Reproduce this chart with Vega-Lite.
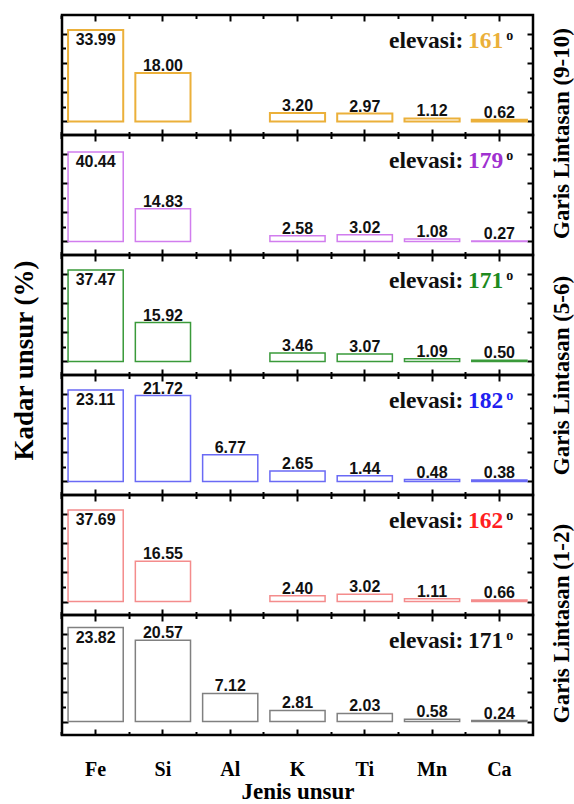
{
"$schema": "https://vega.github.io/schema/vega-lite/v6.json",
"background": "white",
"padding": {"left": 10, "top": 12, "right": 0, "bottom": 0},
"config": {
  "view": {"stroke": "black", "strokeWidth": 2.5},
  "axis": {"grid": false, "domain": false, "labels": false, "title": null, "tickColor": "black", "tickWidth": 2, "minExtent": 0, "titleFont": "Liberation Serif", "titleFontWeight": "bold", "titleColor": "black"},
  "title": {"font": "Liberation Serif", "fontWeight": "bold", "color": "black"},
  "text": {"font": "Liberation Sans", "fontWeight": "bold", "fontSize": 16, "color": "#111"}
},
"datasets": {
  "p1": [{"element":"Fe","value":33.99},{"element":"Si","value":18.00},{"element":"K","value":3.20},{"element":"Ti","value":2.97},{"element":"Mn","value":1.12},{"element":"Ca","value":0.62}],
  "p2": [{"element":"Fe","value":40.44},{"element":"Si","value":14.83},{"element":"K","value":2.58},{"element":"Ti","value":3.02},{"element":"Mn","value":1.08},{"element":"Ca","value":0.27}],
  "p3": [{"element":"Fe","value":37.47},{"element":"Si","value":15.92},{"element":"K","value":3.46},{"element":"Ti","value":3.07},{"element":"Mn","value":1.09},{"element":"Ca","value":0.50}],
  "p4": [{"element":"Fe","value":23.11},{"element":"Si","value":21.72},{"element":"Al","value":6.77},{"element":"K","value":2.65},{"element":"Ti","value":1.44},{"element":"Mn","value":0.48},{"element":"Ca","value":0.38}],
  "p5": [{"element":"Fe","value":37.69},{"element":"Si","value":16.55},{"element":"K","value":2.40},{"element":"Ti","value":3.02},{"element":"Mn","value":1.11},{"element":"Ca","value":0.66}],
  "p6": [{"element":"Fe","value":23.82},{"element":"Si","value":20.57},{"element":"Al","value":7.12},{"element":"K","value":2.81},{"element":"Ti","value":2.03},{"element":"Mn","value":0.58},{"element":"Ca","value":0.24}]
},
"title": {"text": "Kadar unsur (%)", "orient": "left", "fontSize": 27, "offset": 20, "anchor": "middle", "dx": 48},
"spacing": 0,
"bounds": "flush",
"vconcat": [
  {
   "width": 471, "height": 120,
   "data": {"name": "p1"},
   "layer": [
    {"mark": {"type": "bar", "fill": "transparent", "stroke": "#EBB03A", "strokeWidth": 2},
     "encoding": {
      "x": {"field": "element", "type": "nominal", "sort": null, "scale": {"domain": ["Fe","Si","Al","K","Ti","Mn","Ca"], "paddingInner": 0.18, "paddingOuter": 0.09}, "axis": {"orient": "bottom", "bandPosition": 0.5, "tickSize": -6}},
      "y": {"field": "value", "type": "quantitative", "scale": {"domain": [-5.02, 39.59], "nice": false, "zero": false}, "axis": {"orient": "left", "values": [0, 10.89, 21.78, 32.68], "tickSize": -6}},
      "y2": {"datum": 0}}},
    {"transform": [{"filter": "datum.element === 'Fe'"}],
     "mark": {"type": "text", "dy": 15, "baseline": "alphabetic"},
     "encoding": {
      "x": {"field": "element", "type": "nominal", "axis": {"orient": "top", "bandPosition": 0.5, "tickSize": -6}},
      "y": {"field": "value", "type": "quantitative", "axis": {"orient": "right", "values": [0, 10.89, 21.78, 32.68], "tickSize": -6, "title": "Garis Lintasan (9-10)", "titleAngle": 270, "titleX": 28, "titleY": 118, "titleAlign": "center", "titleBaseline": "middle", "titleFontSize": 23}},
      "text": {"field": "value", "type": "quantitative", "format": ".2f"}}},
    {"transform": [{"filter": "datum.element !== 'Fe'"}],
     "mark": {"type": "text", "dy": -2, "baseline": "alphabetic"},
     "encoding": {
      "x": {"field": "element", "type": "nominal", "axis": {"orient": "bottom", "bandPosition": -0.11, "tickSize": -3.5}},
      "y": {"field": "value", "type": "quantitative", "axis": {"orient": "left", "values": [5.45, 16.34, 27.23], "tickSize": -3.5}},
      "text": {"field": "value", "type": "quantitative", "format": ".2f"}}},
    {"data": {"values": [{}]},
     "mark": {"type": "text", "text": "elevasi:", "align": "right", "dx": -36, "dy": 33, "baseline": "alphabetic", "font": "Liberation Serif", "fontSize": 23.5, "color": "#111"},
     "encoding": {
      "x": {"datum": "Ca", "type": "nominal", "axis": {"orient": "top", "bandPosition": -0.11, "tickSize": -3.5}},
      "y": {"datum": 39.59, "type": "quantitative", "axis": {"orient": "right", "values": [5.45, 16.34, 27.23], "tickSize": -3.5}}}},
    {"data": {"values": [{}]},
     "mark": {"type": "text", "text": "161", "align": "right", "dx": 4, "dy": 33, "baseline": "alphabetic", "font": "Liberation Serif", "fontSize": 23.5, "color": "#EBB03A"},
     "encoding": {"x": {"datum": "Ca", "type": "nominal", "axis": null}, "y": {"datum": 39.59, "type": "quantitative", "axis": null}}},
    {"data": {"values": [{}]},
     "mark": {"type": "text", "text": "o", "align": "left", "dx": 7, "dy": 25, "baseline": "alphabetic", "font": "Liberation Serif", "fontSize": 14, "color": "#111"},
     "encoding": {"x": {"datum": "Ca", "type": "nominal", "axis": null}, "y": {"datum": 39.59, "type": "quantitative", "axis": null}}}
   ],
   "resolve": {"axis": {"x": "independent", "y": "independent"}}
  },
  {
   "width": 471, "height": 120,
   "data": {"name": "p2"},
   "layer": [
    {"mark": {"type": "bar", "fill": "transparent", "stroke": "#D17DEE", "strokeWidth": 1.5},
     "encoding": {
      "x": {"field": "element", "type": "nominal", "sort": null, "scale": {"domain": ["Fe","Si","Al","K","Ti","Mn","Ca"], "paddingInner": 0.18, "paddingOuter": 0.09}, "axis": {"orient": "bottom", "bandPosition": 0.5, "tickSize": -6}},
      "y": {"field": "value", "type": "quantitative", "scale": {"domain": [-6.1, 48.12], "nice": false, "zero": false}, "axis": {"orient": "left", "values": [0, 13.24, 26.48, 39.72], "tickSize": -6}},
      "y2": {"datum": 0}}},
    {"transform": [{"filter": "datum.element === 'Fe'"}],
     "mark": {"type": "text", "dy": 15, "baseline": "alphabetic"},
     "encoding": {
      "x": {"field": "element", "type": "nominal", "axis": {"orient": "top", "bandPosition": 0.5, "tickSize": -6}},
      "y": {"field": "value", "type": "quantitative", "axis": {"orient": "right", "values": [0, 13.24, 26.48, 39.72], "tickSize": -6}},
      "text": {"field": "value", "type": "quantitative", "format": ".2f"}}},
    {"transform": [{"filter": "datum.element !== 'Fe'"}],
     "mark": {"type": "text", "dy": -2, "baseline": "alphabetic"},
     "encoding": {
      "x": {"field": "element", "type": "nominal", "axis": {"orient": "bottom", "bandPosition": -0.11, "tickSize": -3.5}},
      "y": {"field": "value", "type": "quantitative", "axis": {"orient": "left", "values": [6.62, 19.86, 33.10], "tickSize": -3.5}},
      "text": {"field": "value", "type": "quantitative", "format": ".2f"}}},
    {"data": {"values": [{}]},
     "mark": {"type": "text", "text": "elevasi:", "align": "right", "dx": -36, "dy": 33, "baseline": "alphabetic", "font": "Liberation Serif", "fontSize": 23.5, "color": "#111"},
     "encoding": {
      "x": {"datum": "Ca", "type": "nominal", "axis": {"orient": "top", "bandPosition": -0.11, "tickSize": -3.5}},
      "y": {"datum": 48.12, "type": "quantitative", "axis": {"orient": "right", "values": [6.62, 19.86, 33.10], "tickSize": -3.5}}}},
    {"data": {"values": [{}]},
     "mark": {"type": "text", "text": "179", "align": "right", "dx": 4, "dy": 33, "baseline": "alphabetic", "font": "Liberation Serif", "fontSize": 23.5, "color": "#A030D0"},
     "encoding": {"x": {"datum": "Ca", "type": "nominal", "axis": null}, "y": {"datum": 48.12, "type": "quantitative", "axis": null}}},
    {"data": {"values": [{}]},
     "mark": {"type": "text", "text": "o", "align": "left", "dx": 7, "dy": 25, "baseline": "alphabetic", "font": "Liberation Serif", "fontSize": 14, "color": "#111"},
     "encoding": {"x": {"datum": "Ca", "type": "nominal", "axis": null}, "y": {"datum": 48.12, "type": "quantitative", "axis": null}}}
   ],
   "resolve": {"axis": {"x": "independent", "y": "independent"}}
  },
  {
   "width": 471, "height": 120,
   "data": {"name": "p3"},
   "layer": [
    {"mark": {"type": "bar", "fill": "transparent", "stroke": "#3A9A3A", "strokeWidth": 1.5},
     "encoding": {
      "x": {"field": "element", "type": "nominal", "sort": null, "scale": {"domain": ["Fe","Si","Al","K","Ti","Mn","Ca"], "paddingInner": 0.18, "paddingOuter": 0.09}, "axis": {"orient": "bottom", "bandPosition": 0.5, "tickSize": -6}},
      "y": {"field": "value", "type": "quantitative", "scale": {"domain": [-5.53, 43.61], "nice": false, "zero": false}, "axis": {"orient": "left", "values": [0, 12.0, 24.0, 36.0], "tickSize": -6}},
      "y2": {"datum": 0}}},
    {"transform": [{"filter": "datum.element === 'Fe'"}],
     "mark": {"type": "text", "dy": 15, "baseline": "alphabetic"},
     "encoding": {
      "x": {"field": "element", "type": "nominal", "axis": {"orient": "top", "bandPosition": 0.5, "tickSize": -6}},
      "y": {"field": "value", "type": "quantitative", "axis": {"orient": "right", "values": [0, 12.0, 24.0, 36.0], "tickSize": -6, "title": "Garis Lintasan (5-6)", "titleAngle": 270, "titleX": 28, "titleY": 120, "titleAlign": "center", "titleBaseline": "middle", "titleFontSize": 23}},
      "text": {"field": "value", "type": "quantitative", "format": ".2f"}}},
    {"transform": [{"filter": "datum.element !== 'Fe'"}],
     "mark": {"type": "text", "dy": -2, "baseline": "alphabetic"},
     "encoding": {
      "x": {"field": "element", "type": "nominal", "axis": {"orient": "bottom", "bandPosition": -0.11, "tickSize": -3.5}},
      "y": {"field": "value", "type": "quantitative", "axis": {"orient": "left", "values": [6.0, 18.0, 30.0], "tickSize": -3.5}},
      "text": {"field": "value", "type": "quantitative", "format": ".2f"}}},
    {"data": {"values": [{}]},
     "mark": {"type": "text", "text": "elevasi:", "align": "right", "dx": -36, "dy": 33, "baseline": "alphabetic", "font": "Liberation Serif", "fontSize": 23.5, "color": "#111"},
     "encoding": {
      "x": {"datum": "Ca", "type": "nominal", "axis": {"orient": "top", "bandPosition": -0.11, "tickSize": -3.5}},
      "y": {"datum": 43.61, "type": "quantitative", "axis": {"orient": "right", "values": [6.0, 18.0, 30.0], "tickSize": -3.5}}}},
    {"data": {"values": [{}]},
     "mark": {"type": "text", "text": "171", "align": "right", "dx": 4, "dy": 33, "baseline": "alphabetic", "font": "Liberation Serif", "fontSize": 23.5, "color": "#1E8A1E"},
     "encoding": {"x": {"datum": "Ca", "type": "nominal", "axis": null}, "y": {"datum": 43.61, "type": "quantitative", "axis": null}}},
    {"data": {"values": [{}]},
     "mark": {"type": "text", "text": "o", "align": "left", "dx": 7, "dy": 25, "baseline": "alphabetic", "font": "Liberation Serif", "fontSize": 14, "color": "#111"},
     "encoding": {"x": {"datum": "Ca", "type": "nominal", "axis": null}, "y": {"datum": 43.61, "type": "quantitative", "axis": null}}}
   ],
   "resolve": {"axis": {"x": "independent", "y": "independent"}}
  },
  {
   "width": 471, "height": 120,
   "data": {"name": "p4"},
   "layer": [
    {"mark": {"type": "bar", "fill": "transparent", "stroke": "#6A6AF5", "strokeWidth": 1.5},
     "encoding": {
      "x": {"field": "element", "type": "nominal", "sort": null, "scale": {"domain": ["Fe","Si","Al","K","Ti","Mn","Ca"], "paddingInner": 0.18, "paddingOuter": 0.09}, "axis": {"orient": "bottom", "bandPosition": 0.5, "tickSize": -6}},
      "y": {"field": "value", "type": "quantitative", "scale": {"domain": [-3.41, 26.90], "nice": false, "zero": false}, "axis": {"orient": "left", "values": [0, 7.40, 14.80, 22.20], "tickSize": -6}},
      "y2": {"datum": 0}}},
    {"transform": [{"filter": "datum.element === 'Fe'"}],
     "mark": {"type": "text", "dy": 15, "baseline": "alphabetic"},
     "encoding": {
      "x": {"field": "element", "type": "nominal", "axis": {"orient": "top", "bandPosition": 0.5, "tickSize": -6}},
      "y": {"field": "value", "type": "quantitative", "axis": {"orient": "right", "values": [0, 7.40, 14.80, 22.20], "tickSize": -6}},
      "text": {"field": "value", "type": "quantitative", "format": ".2f"}}},
    {"transform": [{"filter": "datum.element !== 'Fe'"}],
     "mark": {"type": "text", "dy": -2, "baseline": "alphabetic"},
     "encoding": {
      "x": {"field": "element", "type": "nominal", "axis": {"orient": "bottom", "bandPosition": -0.11, "tickSize": -3.5}},
      "y": {"field": "value", "type": "quantitative", "axis": {"orient": "left", "values": [3.70, 11.10, 18.50], "tickSize": -3.5}},
      "text": {"field": "value", "type": "quantitative", "format": ".2f"}}},
    {"data": {"values": [{}]},
     "mark": {"type": "text", "text": "elevasi:", "align": "right", "dx": -36, "dy": 33, "baseline": "alphabetic", "font": "Liberation Serif", "fontSize": 23.5, "color": "#111"},
     "encoding": {
      "x": {"datum": "Ca", "type": "nominal", "axis": {"orient": "top", "bandPosition": -0.11, "tickSize": -3.5}},
      "y": {"datum": 26.90, "type": "quantitative", "axis": {"orient": "right", "values": [3.70, 11.10, 18.50], "tickSize": -3.5}}}},
    {"data": {"values": [{}]},
     "mark": {"type": "text", "text": "182", "align": "right", "dx": 4, "dy": 33, "baseline": "alphabetic", "font": "Liberation Serif", "fontSize": 23.5, "color": "#2020F0"},
     "encoding": {"x": {"datum": "Ca", "type": "nominal", "axis": null}, "y": {"datum": 26.90, "type": "quantitative", "axis": null}}},
    {"data": {"values": [{}]},
     "mark": {"type": "text", "text": "o", "align": "left", "dx": 7, "dy": 25, "baseline": "alphabetic", "font": "Liberation Serif", "fontSize": 14, "color": "#2020F0"},
     "encoding": {"x": {"datum": "Ca", "type": "nominal", "axis": null}, "y": {"datum": 26.90, "type": "quantitative", "axis": null}}}
   ],
   "resolve": {"axis": {"x": "independent", "y": "independent"}}
  },
  {
   "width": 471, "height": 120,
   "data": {"name": "p5"},
   "layer": [
    {"mark": {"type": "bar", "fill": "transparent", "stroke": "#F48C8C", "strokeWidth": 1.5},
     "encoding": {
      "x": {"field": "element", "type": "nominal", "sort": null, "scale": {"domain": ["Fe","Si","Al","K","Ti","Mn","Ca"], "paddingInner": 0.18, "paddingOuter": 0.09}, "axis": {"orient": "bottom", "bandPosition": 0.5, "tickSize": -6}},
      "y": {"field": "value", "type": "quantitative", "scale": {"domain": [-5.56, 43.87], "nice": false, "zero": false}, "axis": {"orient": "left", "values": [0, 12.07, 24.14, 36.20], "tickSize": -6}},
      "y2": {"datum": 0}}},
    {"transform": [{"filter": "datum.element === 'Fe'"}],
     "mark": {"type": "text", "dy": 15, "baseline": "alphabetic"},
     "encoding": {
      "x": {"field": "element", "type": "nominal", "axis": {"orient": "top", "bandPosition": 0.5, "tickSize": -6}},
      "y": {"field": "value", "type": "quantitative", "axis": {"orient": "right", "values": [0, 12.07, 24.14, 36.20], "tickSize": -6, "title": "Garis Lintasan (1-2)", "titleAngle": 270, "titleX": 28, "titleY": 128, "titleAlign": "center", "titleBaseline": "middle", "titleFontSize": 23}},
      "text": {"field": "value", "type": "quantitative", "format": ".2f"}}},
    {"transform": [{"filter": "datum.element !== 'Fe'"}],
     "mark": {"type": "text", "dy": -2, "baseline": "alphabetic"},
     "encoding": {
      "x": {"field": "element", "type": "nominal", "axis": {"orient": "bottom", "bandPosition": -0.11, "tickSize": -3.5}},
      "y": {"field": "value", "type": "quantitative", "axis": {"orient": "left", "values": [6.03, 18.10, 30.17], "tickSize": -3.5}},
      "text": {"field": "value", "type": "quantitative", "format": ".2f"}}},
    {"data": {"values": [{}]},
     "mark": {"type": "text", "text": "elevasi:", "align": "right", "dx": -36, "dy": 33, "baseline": "alphabetic", "font": "Liberation Serif", "fontSize": 23.5, "color": "#111"},
     "encoding": {
      "x": {"datum": "Ca", "type": "nominal", "axis": {"orient": "top", "bandPosition": -0.11, "tickSize": -3.5}},
      "y": {"datum": 43.87, "type": "quantitative", "axis": {"orient": "right", "values": [6.03, 18.10, 30.17], "tickSize": -3.5}}}},
    {"data": {"values": [{}]},
     "mark": {"type": "text", "text": "162", "align": "right", "dx": 4, "dy": 33, "baseline": "alphabetic", "font": "Liberation Serif", "fontSize": 23.5, "color": "#FF2020"},
     "encoding": {"x": {"datum": "Ca", "type": "nominal", "axis": null}, "y": {"datum": 43.87, "type": "quantitative", "axis": null}}},
    {"data": {"values": [{}]},
     "mark": {"type": "text", "text": "o", "align": "left", "dx": 7, "dy": 25, "baseline": "alphabetic", "font": "Liberation Serif", "fontSize": 14, "color": "#111"},
     "encoding": {"x": {"datum": "Ca", "type": "nominal", "axis": null}, "y": {"datum": 43.87, "type": "quantitative", "axis": null}}}
   ],
   "resolve": {"axis": {"x": "independent", "y": "independent"}}
  },
  {
   "width": 471, "height": 120,
   "data": {"name": "p6"},
   "layer": [
    {"mark": {"type": "bar", "fill": "transparent", "stroke": "#808080", "strokeWidth": 1.5},
     "encoding": {
      "x": {"field": "element", "type": "nominal", "sort": null, "scale": {"domain": ["Fe","Si","Al","K","Ti","Mn","Ca"], "paddingInner": 0.18, "paddingOuter": 0.09}, "axis": {"orient": "bottom", "bandPosition": 0.5, "tickSize": -6, "labels": true, "labelAngle": 0, "labelFont": "Liberation Serif", "labelFontWeight": "bold", "labelFontSize": 20, "labelColor": "black", "labelPadding": 30, "title": "Jenis unsur", "titleFontSize": 23, "titlePadding": 1}},
      "y": {"field": "value", "type": "quantitative", "scale": {"domain": [-3.42, 26.99], "nice": false, "zero": false}, "axis": {"orient": "left", "values": [0, 7.43, 14.85, 22.28], "tickSize": -6}},
      "y2": {"datum": 0}}},
    {"transform": [{"filter": "datum.element === 'Fe'"}],
     "mark": {"type": "text", "dy": 15, "baseline": "alphabetic"},
     "encoding": {
      "x": {"field": "element", "type": "nominal", "axis": {"orient": "top", "bandPosition": 0.5, "tickSize": -6}},
      "y": {"field": "value", "type": "quantitative", "axis": {"orient": "right", "values": [0, 7.43, 14.85, 22.28], "tickSize": -6}},
      "text": {"field": "value", "type": "quantitative", "format": ".2f"}}},
    {"transform": [{"filter": "datum.element !== 'Fe'"}],
     "mark": {"type": "text", "dy": -2, "baseline": "alphabetic"},
     "encoding": {
      "x": {"field": "element", "type": "nominal", "axis": {"orient": "bottom", "bandPosition": -0.11, "tickSize": -3.5}},
      "y": {"field": "value", "type": "quantitative", "axis": {"orient": "left", "values": [3.71, 11.14, 18.56], "tickSize": -3.5}},
      "text": {"field": "value", "type": "quantitative", "format": ".2f"}}},
    {"data": {"values": [{}]},
     "mark": {"type": "text", "text": "elevasi:", "align": "right", "dx": -36, "dy": 33, "baseline": "alphabetic", "font": "Liberation Serif", "fontSize": 23.5, "color": "#111"},
     "encoding": {
      "x": {"datum": "Ca", "type": "nominal", "axis": {"orient": "top", "bandPosition": -0.11, "tickSize": -3.5}},
      "y": {"datum": 26.99, "type": "quantitative", "axis": {"orient": "right", "values": [3.71, 11.14, 18.56], "tickSize": -3.5}}}},
    {"data": {"values": [{}]},
     "mark": {"type": "text", "text": "171", "align": "right", "dx": 4, "dy": 33, "baseline": "alphabetic", "font": "Liberation Serif", "fontSize": 23.5, "color": "#111"},
     "encoding": {"x": {"datum": "Ca", "type": "nominal", "axis": null}, "y": {"datum": 26.99, "type": "quantitative", "axis": null}}},
    {"data": {"values": [{}]},
     "mark": {"type": "text", "text": "o", "align": "left", "dx": 7, "dy": 25, "baseline": "alphabetic", "font": "Liberation Serif", "fontSize": 14, "color": "#111"},
     "encoding": {"x": {"datum": "Ca", "type": "nominal", "axis": null}, "y": {"datum": 26.99, "type": "quantitative", "axis": null}}}
   ],
   "resolve": {"axis": {"x": "independent", "y": "independent"}}
  }
]
}
